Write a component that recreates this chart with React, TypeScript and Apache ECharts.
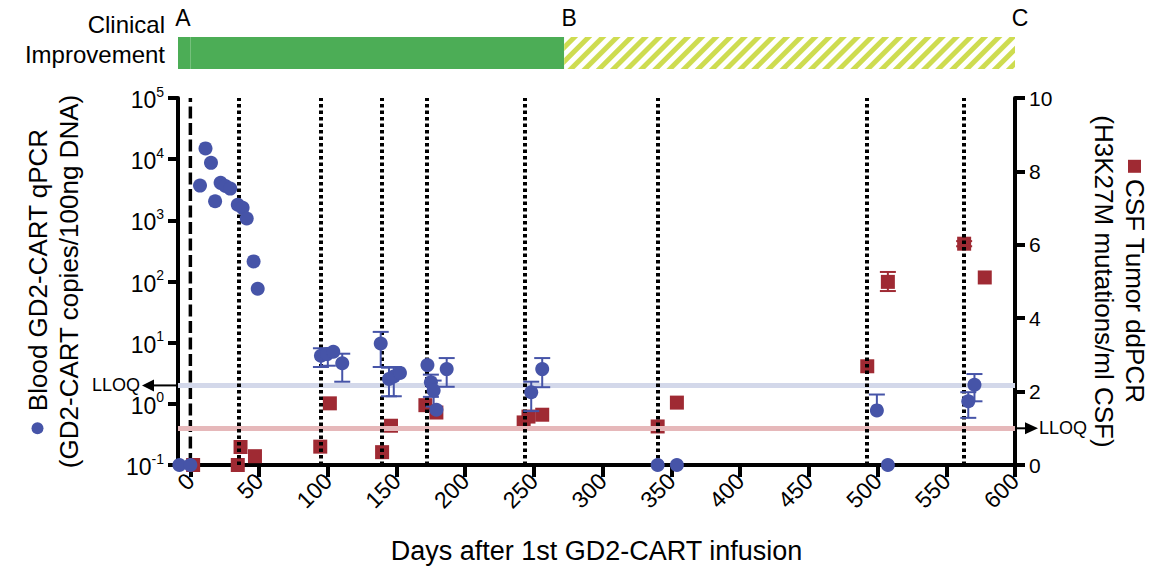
import React, { useEffect, useRef } from 'react';
import * as echarts from 'echarts';

const FONT = '"Liberation Sans", Arial, Helvetica, sans-serif';
const BLUE = '#4654a8';
const RED = '#9f2a33';
const GREEN = '#4cad56';
const HATCH = '#cedc50';

// x axis (days after 1st infusion)
const xMin = -9;
const xMax = 600;
const xTicks = [0, 50, 100, 150, 200, 250, 300, 350, 400, 450, 500, 550, 600];

// Left axis: Blood GD2-CART qPCR (log)
const bloodMin = 0.1;
const bloodMax = 100000;
const bloodLLOQ = 2;

// Right axis: CSF tumor ddPCR
const csfMin = 0;
const csfMax = 10;
const csfInterval = 2;
const csfLLOQ = 1;

// Blood GD2-CART qPCR points [day, copies]
const bloodPoints: [number, number][] = [
  [-8, 0.1], [0, 0.1],
  [7, 3700], [11, 15000], [15, 8700], [18, 2050], [22, 4100], [25.5, 3650], [29, 3300],
  [34.5, 1800], [38, 1600], [41, 1070], [46, 213], [49, 76],
  [95, 6.1], [99.5, 6.5], [104, 7.1], [110.5, 4.6],
  [138.5, 9.7], [144.5, 2.55], [148, 2.8], [152.5, 3.2],
  [172.5, 4.3], [175, 2.25], [177, 1.65], [179, 0.8], [186.5, 3.7],
  [248, 1.55], [256, 3.7],
  [340, 0.1], [354, 0.1],
  [499.5, 0.78], [507.5, 0.1],
  [566, 1.1], [570.5, 2.05],
];

// Blood error bars [day, low (null = hidden), high]
const bloodErrors: [number, number | null, number][] = [
  [95, 4.0, 8.1], [100, 4.2, 8.0], [110.5, 2.3, 6.6],
  [138.5, 4.0, 15], [144.5, 1.33, 3.9], [148, 1.33, 4.0],
  [175, 1.3, 3.0], [177, 0.9, 2.4], [186.5, 1.9, 5.6],
  [248, 0.76, 2.3], [256, 1.87, 5.6],
  [499.5, null, 1.42],
  [566, 0.59, 1.55], [570.5, 1.1, 3.07],
];

// CSF tumor ddPCR points [day, mutations/ml]
const csfPoints: [number, number][] = [
  [2, 0], [34.5, 0], [36.5, 0.49], [47, 0.24],
  [94.5, 0.5], [101.5, 1.68],
  [139.5, 0.35], [146, 1.07],
  [171, 1.63], [179, 1.43],
  [242.5, 1.16], [246, 1.32], [256, 1.37],
  [340, 1.05], [354, 1.7],
  [492.5, 2.69], [507.5, 4.99],
  [563, 6.03], [578, 5.11],
];

const csfErrors: [number, number, number][] = [
  [507.5, 4.74, 5.26],
  [563, 5.96, 6.1],
];

// Infusion days (dotted) and first infusion (dashed)
const firstInfusionDay = 0;
const infusionDays = [35, 95, 139, 172, 243, 340, 492, 563];

// Clinical improvement phases
const phaseBounds = [-9, 272, 600];
const phaseLabels = ['A', 'B', 'C'];

const errorRenderer = (color: string) => (params: any, api: any) => {
  const x = api.value(0);
  const lo = api.value(1);
  const hi = api.value(2);
  const hasLo = api.value(3) === 1;
  const top = api.coord([x, hi]);
  const bot = api.coord([x, lo]);
  const half = 8;
  const st = { stroke: color, lineWidth: 2 };
  const children: any[] = [
    { type: 'line', shape: { x1: top[0], y1: top[1], x2: bot[0], y2: bot[1] }, style: st },
    { type: 'line', shape: { x1: top[0] - half, y1: top[1], x2: top[0] + half, y2: top[1] }, style: st },
  ];
  if (hasLo) {
    children.push({ type: 'line', shape: { x1: bot[0] - half, y1: bot[1], x2: bot[0] + half, y2: bot[1] }, style: st });
  }
  return { type: 'group', children };
};

export default function App() {
  const ref = useRef<HTMLDivElement>(null);

  useEffect(() => {
    if (!ref.current) return;
    const chart = echarts.init(ref.current, undefined, { renderer: 'svg' });

    const pointValue = (d: number) => {
      const p = bloodPoints.find((q) => q[0] === d);
      return p ? p[1] : 1;
    };

    const dotted = { type: [3.5, 3] as any, width: 4, color: '#000', cap: 'butt' as any };

    const option: any = {
      animation: false,
      backgroundColor: '#fff',
      textStyle: { fontFamily: FONT },
      grid: [
        { left: 178, right: 151, top: 98, bottom: 101 },
        { left: 178, right: 151, top: 37, height: 32 },
      ],
      xAxis: [
        {
          gridIndex: 0,
          type: 'value',
          min: xMin,
          max: xMax,
          axisLine: { show: true, onZero: false, lineStyle: { color: '#000', width: 4 } },
          axisTick: { show: true, customValues: xTicks, length: 12, lineStyle: { color: '#000', width: 4 } },
          axisLabel: { customValues: xTicks, rotate: 45, fontSize: 23, color: '#000', fontFamily: FONT, margin: 12 },
          splitLine: { show: false },
          name: 'Days after 1st GD2-CART infusion',
          nameLocation: 'middle',
          nameGap: 72,
          nameTextStyle: { fontSize: 27, color: '#000', fontFamily: FONT },
        },
        { gridIndex: 1, type: 'value', min: xMin, max: xMax, show: false },
      ],
      yAxis: [
        {
          gridIndex: 0,
          type: 'log',
          logBase: 10,
          min: bloodMin,
          max: bloodMax,
          position: 'left',
          axisLine: { show: true, onZero: false, lineStyle: { color: '#000', width: 4 } },
          axisTick: { show: true, length: 10, lineStyle: { color: '#000', width: 4 } },
          minorTick: { show: false },
          splitLine: { show: false },
          axisLabel: {
            margin: 14,
            formatter: (v: number) => `{b|10}{s|${Math.round(Math.log10(v))}}`,
            rich: {
              b: { fontSize: 23, fontFamily: FONT, color: '#000', verticalAlign: 'bottom', padding: [4, 0, 0, 0] },
              s: { fontSize: 14, fontFamily: FONT, color: '#000', verticalAlign: 'top' },
            },
          },
          name: '{dot| }{sp| }Blood GD2-CART qPCR\n(GD2-CART copies/100ng DNA)',
          nameLocation: 'middle',
          nameRotate: 90,
          nameGap: 94,
          nameTextStyle: {
            fontSize: 26,
            color: '#000',
            fontFamily: FONT,
            lineHeight: 31,
            rich: {
              dot: { width: 12, height: 12, backgroundColor: BLUE, borderRadius: 6, verticalAlign: 'middle' },
              sp: { width: 11, fontSize: 26 },
            },
          },
        },
        {
          gridIndex: 0,
          type: 'value',
          min: csfMin,
          max: csfMax,
          interval: csfInterval,
          position: 'right',
          axisLine: { show: true, onZero: false, lineStyle: { color: '#000', width: 4 } },
          axisTick: { show: true, length: 10, lineStyle: { color: '#000', width: 4 } },
          splitLine: { show: false },
          axisLabel: { fontSize: 21, color: '#000', fontFamily: FONT, margin: 14 },
          name: '{sq| }{sp| }CSF Tumor ddPCR\n(H3K27M mutations/ml CSF)',
          nameLocation: 'middle',
          nameRotate: -90,
          nameGap: 73,
          nameTextStyle: {
            fontSize: 26,
            color: '#000',
            fontFamily: FONT,
            lineHeight: 31,
            rich: {
              sq: { width: 13, height: 13, backgroundColor: RED, verticalAlign: 'middle' },
              sp: { width: 6, fontSize: 26 },
            },
          },
        },
        { gridIndex: 1, type: 'category', data: ['phase'], show: false },
      ],
      series: [
        // top phase bar
        {
          type: 'bar', xAxisIndex: 1, yAxisIndex: 2, stack: 'phase', barWidth: '100%', silent: true,
          data: [phaseBounds[1]], itemStyle: { color: GREEN },
        },
        {
          type: 'bar', xAxisIndex: 1, yAxisIndex: 2, stack: 'phase', barWidth: '100%', silent: true,
          data: [phaseBounds[2] - phaseBounds[1]],
          itemStyle: {
            color: '#ffffff',
            decal: {
              symbol: 'rect', symbolSize: 1, dashArrayX: [1, 0], dashArrayY: [5, 5],
              rotation: -Math.PI / 4, color: HATCH,
            },
          },
        },
        {
          type: 'bar', xAxisIndex: 1, yAxisIndex: 2, stack: 'phase', barWidth: '100%', silent: true,
          data: [phaseBounds[0]], itemStyle: { color: GREEN },
        },
        // LLOQ lines
        {
          type: 'line', xAxisIndex: 0, yAxisIndex: 0, data: [], z: 1, silent: true,
          markLine: {
            silent: true, symbol: ['none', 'none'], label: { show: false },
            lineStyle: { color: '#d3d8ea', width: 5, type: 'solid' },
            data: [{ yAxis: bloodLLOQ }],
          },
        },
        {
          type: 'line', xAxisIndex: 0, yAxisIndex: 1, data: [], z: 1, silent: true,
          markLine: {
            silent: true, symbol: ['none', 'none'], label: { show: false },
            lineStyle: { color: '#e6b8ba', width: 5, type: 'solid' },
            data: [{ yAxis: csfLLOQ }],
          },
        },
        // first infusion (dashed)
        {
          type: 'line', xAxisIndex: 0, yAxisIndex: 1, z: 2, silent: true,
          symbol: 'none', clip: false,
          lineStyle: { type: [12, 4.5], width: 3.5, color: '#000' },
          data: [[firstInfusionDay, csfMin], [firstInfusionDay, csfMax]],
        },
        // subsequent infusions (dotted)
        {
          type: 'line', xAxisIndex: 0, yAxisIndex: 1, data: [], z: 2, silent: true,
          markLine: {
            silent: true, symbol: ['none', 'none'], label: { show: false },
            data: infusionDays.map((d) => ({ xAxis: d, lineStyle: dotted })),
          },
        },
        // error bars
        {
          type: 'custom', xAxisIndex: 0, yAxisIndex: 1, z: 3, silent: true,
          renderItem: errorRenderer(RED),
          encode: { x: 0, y: [1, 2] },
          data: csfErrors.map((e) => [e[0], e[1], e[2], 1]),
        },
        {
          type: 'scatter', xAxisIndex: 0, yAxisIndex: 1, z: 4, clip: false, silent: true,
          symbol: 'rect', symbolSize: 14, itemStyle: { color: RED, opacity: 1 },
          data: csfPoints,
        },
        {
          type: 'custom', xAxisIndex: 0, yAxisIndex: 0, z: 5, silent: true,
          renderItem: errorRenderer(BLUE),
          encode: { x: 0, y: [1, 2] },
          data: bloodErrors.map((e) => [e[0], e[1] == null ? pointValue(e[0]) : e[1], e[2], e[1] == null ? 0 : 1]),
        },
        {
          type: 'scatter', xAxisIndex: 0, yAxisIndex: 0, z: 6, clip: false, silent: true,
          symbol: 'circle', symbolSize: 14, itemStyle: { color: BLUE, opacity: 1 },
          data: bloodPoints,
        },
      ],
    };

    chart.setOption(option);

    const px = (xi: number, v: number) => chart.convertToPixel({ xAxisIndex: xi } as any, v) as unknown as number;
    const py = (yi: number, v: number) => chart.convertToPixel({ yAxisIndex: yi } as any, v) as unknown as number;
    const xl = px(0, xMin);
    const xr = px(0, xMax);
    const yb = py(0, bloodLLOQ);
    const yr = py(1, csfLLOQ);

    const textStyle = (extra: any) => ({ fill: '#000', fontFamily: FONT, ...extra });

    const graphic: any[] = [
      {
        type: 'text', x: xl - 13, y: 39.5,
        style: textStyle({
          text: 'Clinical\nImprovement', fontSize: 24, lineHeight: 30,
          align: 'right', textAlign: 'right', verticalAlign: 'middle', textVerticalAlign: 'middle',
        }),
      },
      ...phaseBounds.map((b, i) => ({
        type: 'text', x: px(1, b) + 5, y: 18,
        style: textStyle({
          text: phaseLabels[i], fontSize: 23,
          align: 'center', textAlign: 'center', verticalAlign: 'middle', textVerticalAlign: 'middle',
        }),
      })),
      // left LLOQ arrow
      { type: 'line', shape: { x1: xl, y1: yb, x2: xl - 26, y2: yb }, style: { stroke: '#000', lineWidth: 2 } },
      { type: 'polygon', shape: { points: [[xl - 24, yb - 6], [xl - 24, yb + 6], [xl - 36, yb]] }, style: { fill: '#000' } },
      {
        type: 'text', x: xl - 38, y: yb,
        style: textStyle({ text: 'LLOQ', fontSize: 18, align: 'right', textAlign: 'right', verticalAlign: 'middle', textVerticalAlign: 'middle' }),
      },
      // right LLOQ arrow
      { type: 'line', shape: { x1: xr, y1: yr, x2: xr + 12, y2: yr }, style: { stroke: '#000', lineWidth: 2 } },
      { type: 'polygon', shape: { points: [[xr + 10, yr - 6], [xr + 10, yr + 6], [xr + 23, yr]] }, style: { fill: '#000' } },
      {
        type: 'text', x: xr + 24, y: yr,
        style: textStyle({ text: 'LLOQ', fontSize: 18, align: 'left', textAlign: 'left', verticalAlign: 'middle', textVerticalAlign: 'middle' }),
      },
    ];

    chart.setOption({ graphic });

    return () => {
      chart.dispose();
    };
  }, []);

  return (
    <div
      ref={ref}
      style={{ position: 'fixed', left: 0, top: 0, width: 1166, height: 569, background: '#fff' }}
    />
  );
}
